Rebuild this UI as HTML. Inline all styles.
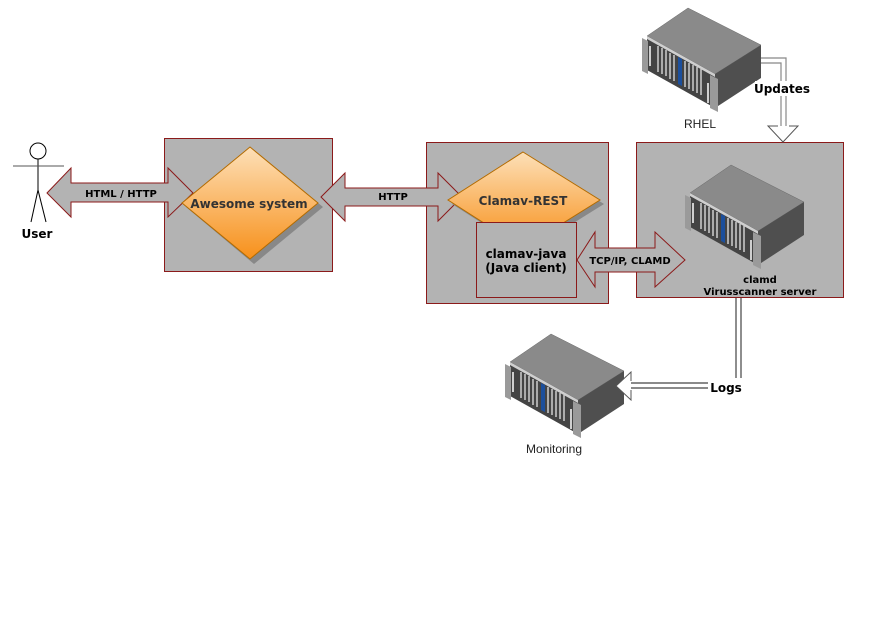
<!DOCTYPE html>
<html><head><meta charset="utf-8"><style>
html,body{margin:0;padding:0;background:#fff;}
svg{display:block;}
text{font-family:"DejaVu Sans","Liberation Sans",sans-serif;}
text.lib{font-family:"Liberation Sans",sans-serif;}
</style></head><body>
<svg width="871" height="621" viewBox="0 0 871 621" xmlns="http://www.w3.org/2000/svg">
<defs>
<linearGradient id="og" x1="0" y1="0" x2="0" y2="1">
<stop offset="0" stop-color="#fde0b8"/><stop offset="1" stop-color="#f7901a"/>
</linearGradient>
<g id="srv">
<polygon points="7,28 48,0 121,37 75,66" fill="#8a8a8a" stroke="#6a6a6a" stroke-width="0.5"/>
<polygon points="75,66 121,37 121,70 75,100" fill="#4f4f4f"/>
<polygon points="7,28 75,66 75,100 7,62" fill="#444"/>
<polygon points="7,28 75,66 75,69 7,31" fill="#cfcfcf"/>
<polygon points="2,30 8,33 8,66 2,63" fill="#9a9a9a"/>
<polygon points="70,67 78,71 78,104 70,100" fill="#9a9a9a"/>
<g stroke="#d8d8d8" stroke-width="1.4">
<line x1="18" y1="38" x2="18" y2="64"/><line x1="22" y1="40" x2="22" y2="66"/><line x1="26" y1="42" x2="26" y2="68"/><line x1="30" y1="45" x2="30" y2="71"/><line x1="34" y1="47" x2="34" y2="73"/>
<line x1="45" y1="53" x2="45" y2="79"/><line x1="49" y1="55" x2="49" y2="81"/><line x1="53" y1="57" x2="53" y2="83"/><line x1="57" y1="59" x2="57" y2="85"/><line x1="61" y1="61" x2="61" y2="87"/>
</g>
<polygon points="38,49 42,51 42,78 38,76" fill="#1c4f9c"/>
<path d="M10 38 v20 M68 75 v20" stroke="#cfcfcf" stroke-width="2" fill="none"/>
</g>
</defs>

<circle cx="38" cy="151" r="8" fill="#fff" stroke="#000"/>
<line x1="38" y1="159" x2="38" y2="190" stroke="#000"/>
<line x1="13" y1="166" x2="64" y2="166" stroke="#555"/>
<line x1="38" y1="190" x2="31" y2="222" stroke="#000"/>
<line x1="38" y1="190" x2="46" y2="222" stroke="#000"/>
<text x="37" y="238" font-size="12" font-weight="bold" text-anchor="middle">User</text>

<rect x="164.5" y="138.5" width="168" height="133" fill="#b3b3b3" stroke="#8b1a1a"/>
<polygon points="47,193 71,168 71,183 168,183 168,168 193,193 168,217 168,202 71,202 71,217" fill="#b3b3b3" stroke="#8b1a1a"/>
<text x="121" y="197" font-size="10" font-weight="bold" text-anchor="middle">HTML / HTTP</text>
<polygon points="254,151 323,207 254,264 186,207" fill="#888"/>
<polygon points="250,147 318,203 250,259 182,203" fill="url(#og)" stroke="#b36b00"/>
<text x="249" y="208" font-size="12" font-weight="bold" fill="#333" text-anchor="middle">Awesome system</text>

<rect x="426.5" y="142.5" width="182" height="161" fill="#b3b3b3" stroke="#8b1a1a"/>
<polygon points="321,197 345,173 345,188 438,188 438,173 462,197 438,221 438,206 345,206 345,221" fill="#b3b3b3" stroke="#8b1a1a"/>
<text x="393" y="200" font-size="10" font-weight="bold" text-anchor="middle">HTTP</text>
<polygon points="527,156 604,204 527,252 452,204" fill="#888"/>
<polygon points="523,152 600,200 523,248 448,200" fill="url(#og)" stroke="#b36b00"/>
<text x="523" y="205" font-size="12" font-weight="bold" fill="#333" text-anchor="middle">Clamav-REST</text>
<rect x="476.5" y="222.5" width="100" height="75" fill="#b3b3b3" stroke="#8b1a1a"/>
<text x="526" y="258" font-size="12" font-weight="bold" text-anchor="middle">clamav-java</text>
<text x="526" y="272" font-size="12" font-weight="bold" text-anchor="middle">(Java client)</text>

<rect x="636.5" y="142.5" width="207" height="155" fill="#b3b3b3" stroke="#8b1a1a"/>
<polygon points="577,260 595,232 595,248 655,248 655,232 685,260 655,287 655,272 595,272 595,287" fill="#b3b3b3" stroke="#8b1a1a"/>
<text x="630" y="264" font-size="10" font-weight="bold" text-anchor="middle">TCP/IP,  CLAMD</text>

<use href="#srv" x="640" y="8"/>
<use href="#srv" x="683" y="165"/>
<use href="#srv" x="503" y="334"/>
<text x="760" y="283" font-size="10" font-weight="bold" text-anchor="middle">clamd</text>
<text x="760" y="295" font-size="10" font-weight="bold" text-anchor="middle">Virusscanner server</text>
<text class="lib" x="700" y="128" font-size="12" fill="#222" text-anchor="middle">RHEL</text>
<text class="lib" x="554" y="453" font-size="12" fill="#222" text-anchor="middle">Monitoring</text>

<path d="M761 58 H786 V126 M761 63 H781 V126" stroke="#888" stroke-width="1.2" fill="none"/>
<path d="M778 126 H768 L783 142 L798 126 H789" stroke="#555" fill="#fff"/>
<rect x="755" y="81" width="56" height="15" fill="#fff"/>
<text x="782" y="93" font-size="12" font-weight="bold" text-anchor="middle">Updates</text>

<path d="M736 298 V383 H631 M741 298 V388 H631" stroke="#444" stroke-width="1.2" fill="none"/>
<path d="M631 381 V372 L616 386 L631 400 V390" stroke="#555" fill="#fff"/>
<rect x="708" y="378" width="36" height="16" fill="#fff"/>
<text x="726" y="392" font-size="12" font-weight="bold" text-anchor="middle">Logs</text>
</svg>
</body></html>
